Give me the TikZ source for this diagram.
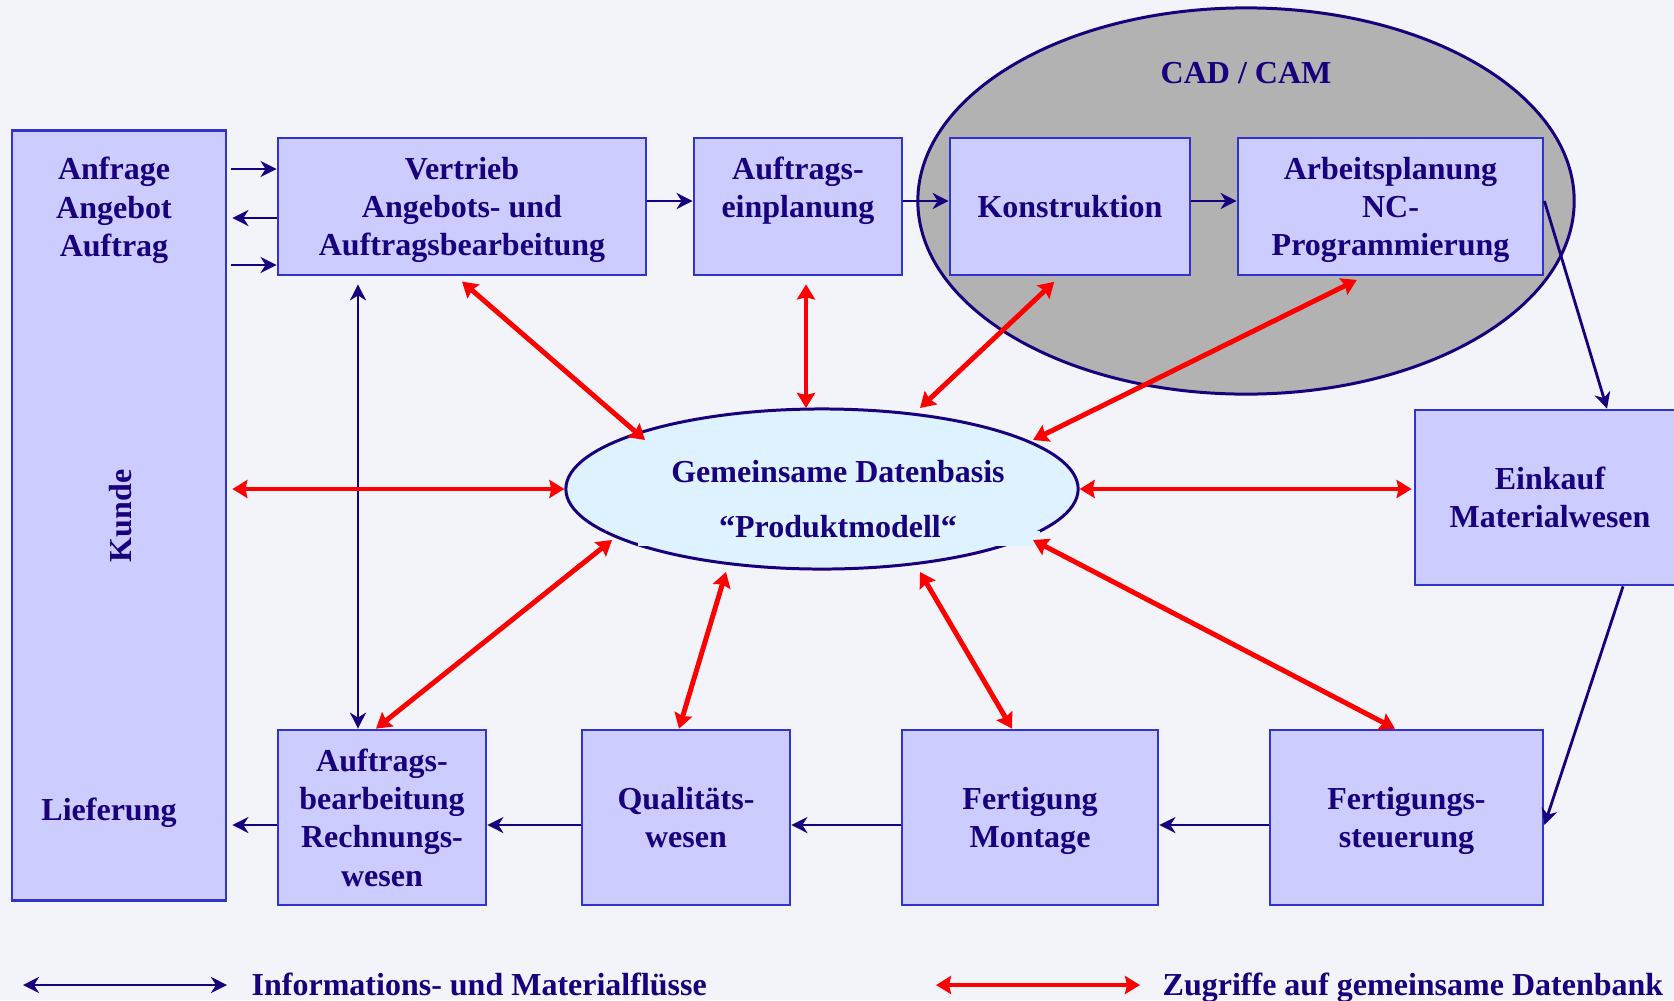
\documentclass[tikz,border=0pt]{standalone}
\usepackage{fontspec}
\setmainfont{Liberation Serif}
\usetikzlibrary{arrows.meta,shapes.geometric}
\definecolor{navy}{RGB}{25,0,125}
\definecolor{boxfill}{RGB}{204,204,255}
\definecolor{boxline}{RGB}{50,50,205}
\definecolor{bgcol}{RGB}{243,244,250}
\definecolor{dbfill}{RGB}{223,242,255}
\definecolor{cadfill}{RGB}{178,178,178}

\begin{document}
\begin{tikzpicture}[x=0.01cm,y=-0.01cm,
    font=\fontsize{9.1}{10.9}\selectfont\bfseries, text=navy, text depth=0pt]
  \tikzset{box/.style={draw=boxline, fill=boxfill, line width=0.75pt,
      inner sep=0, align=center, minimum height=1.37cm},
    lowbox/.style={box, minimum height=1.75cm},
    info/.style={->, >={Stealth[length=0.16cm,width=0.16cm,inset=0.05cm]},
      draw=navy, line width=0.8pt},
    zugriff/.style={<->, >={Stealth[length=0.15cm,width=0.18cm,inset=0.02cm]},
      draw=red, line width=1.4pt},
    cadset/.style={ellipse, draw=navy, fill=cadfill, line width=0.85pt,
      inner sep=0, minimum width=6.56cm, minimum height=3.86cm},
    dbase/.style={ellipse, draw=navy, fill=dbfill, line width=0.85pt,
      inner sep=0, minimum width=5.12cm, minimum height=1.6cm}}
  \path[use as bounding box, fill=bgcol] (0,0) rectangle (1674,1000);
  \clip (0,0) rectangle (1674,1000);
  \node[cadset] (cad) at (1246,201) {};
  \node (cadtitle) at (1246,73) {CAD / CAM};
  \node[box, minimum width=2.14cm, minimum height=7.69cm] (kunde) at (119,515.5) {};
  \node[align=center] (anfrage) at (114,207) {Anfrage\\Angebot\\Auftrag};
  \node[rotate=90] (kundetext) at (120,516) {Kunde};
  \node (liefer) at (109,809) {Lieferung};
  \node[box, minimum width=3.68cm] (vertrieb) at (462,206.5)
    {Vertrieb\\Angebots- und\\Auftragsbearbeitung};
  \node[box, minimum width=2.08cm] (planung) at (798,206.5) {Auftrags-\\einplanung\\\mbox{}};
  \node[box, minimum width=2.40cm] (konstr) at (1070,206.5) {Konstruktion};
  \node[box, minimum width=3.05cm] (arbplan) at (1390.5,206.5)
    {Arbeitsplanung\\NC-\\Programmierung};
  \node[lowbox, minimum width=2.70cm] (einkauf) at (1550,497.5) {Einkauf\\Materialwesen};
  \node[lowbox, minimum width=2.08cm] (abrech) at (382,817.5)
    {Auftrags-\\bearbeitung\\Rechnungs-\\wesen};
  \node[lowbox, minimum width=2.08cm] (quali) at (686,817.5) {Qualitäts-\\wesen};
  \node[lowbox, minimum width=2.56cm] (fertig) at (1030,817.5) {Fertigung\\Montage};
  \node[lowbox, minimum width=2.73cm] (steuer) at (1406.5,817.5) {Fertigungs-\\steuerung};
  % common data base
  \node[dbase] (db) at (822,489) {};
  \fill[dbfill] (638,531) rectangle (1040,545.5);
  \node[align=center] (dbtext) at (838,499)
    {Gemeinsame Datenbasis\\[0.17cm]“Produktmodell“};
  % information and material flow
  \draw[info, shorten <=0.04cm] (kunde.east |- 0,169) -- (vertrieb.west |- 0,169);
  \draw[info, shorten >=0.05cm] (vertrieb.west |- 0,218) -- (kunde.east |- 0,218);
  \draw[info, shorten <=0.04cm] (kunde.east |- 0,265) -- (vertrieb.west |- 0,265);
  \draw[info] (vertrieb.east |- 0,201) -- (planung.west |- 0,201);
  \draw[info] (planung.east |- 0,201) -- (konstr.west |- 0,201);
  \draw[info] (konstr.east |- 0,201) -- (arbplan.west |- 0,201);
  \draw[info] (arbplan.east |- 0,201) -- (einkauf.north -| 1607,0);
  \draw[info] (einkauf.south -| 1623,0) -- (steuer.east |- 0,825);
  \draw[info] (steuer.west |- 0,825) -- (fertig.east |- 0,825);
  \draw[info] (fertig.west |- 0,825) -- (quali.east |- 0,825);
  \draw[info] (quali.west |- 0,825) -- (abrech.east |- 0,825);
  \draw[info, shorten >=0.05cm] (abrech.west |- 0,825) -- (kunde.east |- 0,825);
  \draw[info, <->, shorten <=0.08cm] (vertrieb.south -| 358,0) -- (abrech.north -| 358,0);
  % access to the data base
  \draw[zugriff, shorten <=0.08cm] (vertrieb.south -| 456,0) -- ([shift={(-177,-49)}]db.center);
  \draw[zugriff, shorten <=0.08cm] (planung.south -| 806,0) -- ([shift={(-16,-81)}]db.center);
  \draw[zugriff, shorten <=0.08cm] (konstr.south -| 1060,0) -- ([shift={(98,-81)}]db.center);
  \draw[zugriff, shorten <=0.08cm] (arbplan.south -| 1364,0) -- ([shift={(211,-49)}]db.center);
  \draw[zugriff, shorten <=0.05cm] (kunde.east |- db.west) -- (db.west);
  \draw[zugriff, shorten >=0.02cm] (db.east) -- (einkauf.west |- db.east);
  \draw[zugriff] (abrech.north -| 376,0) -- ([shift={(-210,51)}]db.center);
  \draw[zugriff] (quali.north -| 679,0) -- ([shift={(-96,83)}]db.center);
  \draw[zugriff] (fertig.north -| 1012,0) -- ([shift={(98,83)}]db.center);
  \draw[zugriff] (steuer.north -| 1395,0) -- ([shift={(211,51)}]db.center);
  % legend
  \coordinate (infostart) at (23,985);
  \node[anchor=west, inner sep=0] (infolabel) at (251,984) {Informations- und Materialflüsse};
  \draw[info, <->, shorten >=0.24cm] (infostart) -- (infolabel.west |- infostart);
  \coordinate (dbstart) at (936,985);
  \node[anchor=west, inner sep=0] (dblabel) at (1162,984) {Zugriffe auf gemeinsame Datenbank};
  \draw[zugriff, shorten >=0.22cm] (dbstart) -- (dblabel.west |- dbstart);
\end{tikzpicture}
\end{document}
